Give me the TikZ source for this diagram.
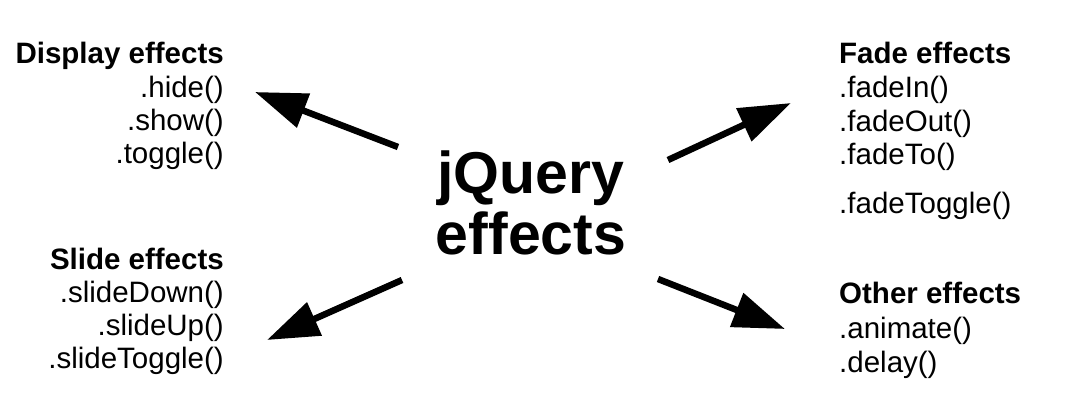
\documentclass[tikz,border=0pt]{standalone}
\usepackage{fontspec}
\setmainfont{Liberation Sans}
\usetikzlibrary{arrows.meta}
\begin{document}
\begin{tikzpicture}[x=1pt,y=-1pt,
  txt/.style={inner sep=0pt,font=\fontsize{29.5}{34}\selectfont},
  hdr/.style={txt,font=\fontsize{29.5}{34}\selectfont\bfseries},
  lft/.style={anchor=base east},
  rgt/.style={anchor=base west},
  bigarrow/.style={line width=6.5pt,-{Triangle[length=52pt,width=35pt]}}]
\useasboundingbox[fill=white] (0,0) rectangle (1081,402);
% centre
\node[inner sep=0pt,anchor=base,font=\fontsize{59}{61}\selectfont\bfseries] (t1) at (531,193) {jQuery};
\node[inner sep=0pt,anchor=base,font=\fontsize{59}{61}\selectfont\bfseries] (t2) at (531,254) {effects};
% display
\node[hdr,lft] (d0) at (224,63) {Display effects};
\node[txt,lft] (d1) at (224,97) {.hide()};
\node[txt,lft] (d2) at (224,130) {.show()};
\node[txt,lft] (d3) at (224,163) {.toggle()};
% slide
\node[hdr,lft] (s0) at (224,269) {Slide effects};
\node[txt,lft] (s1) at (224,302) {.slideDown()};
\node[txt,lft] (s2) at (224,335) {.slideUp()};
\node[txt,lft] (s3) at (224,368) {.slideToggle()};
% fade
\node[hdr,rgt] (f0) at (839,63) {Fade effects};
\node[txt,rgt] (f1) at (839,97) {.fadeIn()};
\node[txt,rgt] (f2) at (839,131) {.fadeOut()};
\node[txt,rgt] (f3) at (839,164) {.fadeTo()};
\node[txt,rgt] (f4) at (839,213) {.fadeToggle()};
% other
\node[hdr,rgt] (o0) at (839,303) {Other effects};
\node[txt,rgt] (o1) at (839,338) {.animate()};
\node[txt,rgt] (o2) at (839,372) {.delay()};
% arrows
\coordinate (a1s) at (398,147); \coordinate (a1e) at (255,92);
\coordinate (a2s) at (668,160); \coordinate (a2e) at (791,103);
\coordinate (a3s) at (402,280); \coordinate (a3e) at (267,340);
\coordinate (a4s) at (658,279); \coordinate (a4e) at (785,329);
\draw[bigarrow] (a1s) -- (a1e);
\draw[bigarrow] (a2s) -- (a2e);
\draw[bigarrow] (a3s) -- (a3e);
\draw[bigarrow] (a4s) -- (a4e);
\end{tikzpicture}
\end{document}
